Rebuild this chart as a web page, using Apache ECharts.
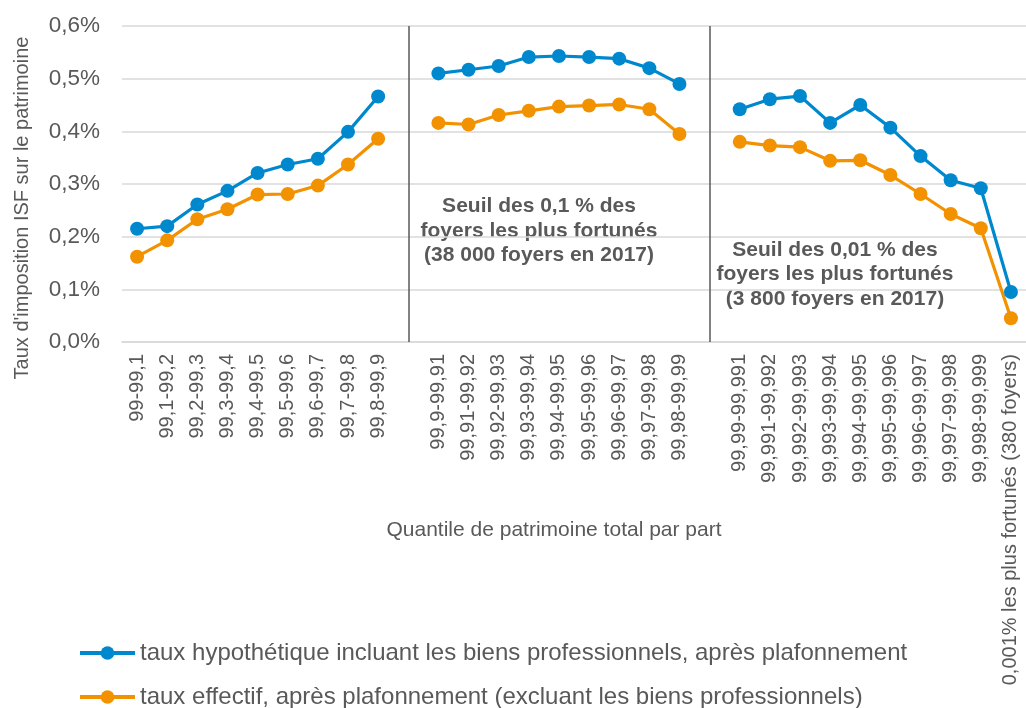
<!DOCTYPE html>
<html>
<head>
<meta charset="utf-8">
<script src="https://cdn.jsdelivr.net/npm/echarts@6/dist/echarts.min.js"></script>
<style>html,body{margin:0;padding:0;background:#fff}#c{width:1026px;height:708px}</style>
</head>
<body>
<div id="c"></div>
<script>
const categories = [
  '99-99,1','99,1-99,2','99,2-99,3','99,3-99,4','99,4-99,5','99,5-99,6','99,6-99,7','99,7-99,8','99,8-99,9',
  ' ',
  '99,9-99,91','99,91-99,92','99,92-99,93','99,93-99,94','99,94-99,95','99,95-99,96','99,96-99,97','99,97-99,98','99,98-99,99',
  '  ',
  '99,99-99,991','99,991-99,992','99,992-99,993','99,993-99,994','99,994-99,995','99,995-99,996','99,996-99,997','99,997-99,998','99,998-99,999',
  '0,001% les plus fortunés (380 foyers)'
];
const hypothetique = [
  0.215,0.220,0.261,0.287,0.321,0.337,0.348,0.399,0.466,
  null,
  0.510,0.517,0.524,0.541,0.543,0.541,0.538,0.520,0.490,
  null,
  0.442,0.461,0.467,0.416,0.450,0.407,0.353,0.307,0.292,0.095
];
const effectif = [
  0.162,0.193,0.233,0.252,0.280,0.281,0.297,0.337,0.386,
  null,
  0.416,0.413,0.431,0.439,0.447,0.449,0.451,0.442,0.395,
  null,
  0.380,0.373,0.370,0.344,0.345,0.317,0.281,0.243,0.216,0.045
];
const yTicks = [0,0.1,0.2,0.3,0.4,0.5,0.6];
const seriesNames = [
  'taux hypothétique incluant les biens professionnels, après plafonnement',
  'taux effectif, après plafonnement (excluant les biens professionnels)'
];
const separators = [' ', '  '];
const annotations = [
  'Seuil des 0,1 % des\nfoyers les plus fortunés\n(38 000 foyers en 2017)',
  'Seuil des 0,01 % des\nfoyers les plus fortunés\n(3 800 foyers en 2017)'
];
const xTitle = 'Quantile de patrimoine total par part';
const yTitle = "Taux d'imposition ISF sur le patrimoine";

const FONT = '"Liberation Sans", Arial, sans-serif';
const GREY = '#595959';
const BLUE = '#0088CE';
const ORANGE = '#F39200';

const chart = echarts.init(document.getElementById('c'), null, {renderer: 'canvas'});

function lineSeries(name, data, color, withSep) {
  const s = {
    name: name,
    type: 'line',
    data: data,
    connectNulls: false,
    symbol: 'circle',
    symbolSize: 14,
    lineStyle: {color: color, width: 3.2},
    itemStyle: {color: color},
    animation: false,
    z: 3
  };
  if (withSep) {
    s.markLine = {
      silent: true,
      symbol: 'none',
      label: {show: false},
      lineStyle: {color: GREY, width: 1.5, type: 'solid'},
      data: separators.map(c => ({xAxis: c})),
      animation: false
    };
  }
  return s;
}

function legendFor(name, top) {
  return {
    orient: 'horizontal',
    left: 78,
    top: top,
    padding: 0,
    itemWidth: 55,
    itemHeight: 17,
    lineStyle: {width: 4},
    data: [name],
    textStyle: {color: GREY, fontSize: 24, fontFamily: FONT}
  };
}

chart.setOption({
  animation: false,
  backgroundColor: '#fff',
  textStyle: {fontFamily: FONT},
  grid: {left: 122, top: 26, width: 904, height: 316, containLabel: false, outerBoundsMode: 'none'},
  xAxis: {
    type: 'category',
    data: categories,
    boundaryGap: true,
    axisLine: {show: true, lineStyle: {color: '#D9D9D9', width: 1.5}},
    axisTick: {show: false},
    axisLabel: {
      interval: 0,
      rotate: 90,
      margin: 12,
      color: GREY,
      fontSize: 20,
      fontFamily: FONT
    },
    splitLine: {show: false}
  },
  yAxis: {
    type: 'value',
    min: 0,
    max: 0.6,
    interval: 0.1,
    axisLine: {show: false},
    axisTick: {show: false},
    axisLabel: {
      color: GREY,
      fontSize: 22.5,
      fontFamily: FONT,
      margin: 22,
      formatter: v => v.toFixed(1).replace('.', ',') + '%'
    },
    splitLine: {lineStyle: {color: '#D9D9D9', width: 1.5}}
  },
  legend: [
    legendFor(seriesNames[0], 641),
    legendFor(seriesNames[1], 685)
  ],
  series: [
    lineSeries(seriesNames[0], hypothetique, BLUE, true),
    lineSeries(seriesNames[1], effectif, ORANGE, false)
  ],
  graphic: [
    {
      type: 'text',
      x: 22, y: 208, rotation: Math.PI / 2,
      style: {text: yTitle, fill: GREY, font: '20px ' + FONT, textAlign: 'center', textVerticalAlign: 'middle'}
    },
    {
      type: 'text', x: 554, y: 530,
      style: {text: xTitle, fill: GREY, font: '21px ' + FONT, textAlign: 'center', textVerticalAlign: 'middle'}
    },
    {
      type: 'text', x: 539, y: 231,
      style: {text: annotations[0], fill: GREY, font: 'bold 21px ' + FONT, textAlign: 'center', textVerticalAlign: 'middle', lineHeight: 24.5}
    },
    {
      type: 'text', x: 835, y: 274.5,
      style: {text: annotations[1], fill: GREY, font: 'bold 21px ' + FONT, textAlign: 'center', textVerticalAlign: 'middle', lineHeight: 24.5}
    }
  ]
});
</script>
</body>
</html>
